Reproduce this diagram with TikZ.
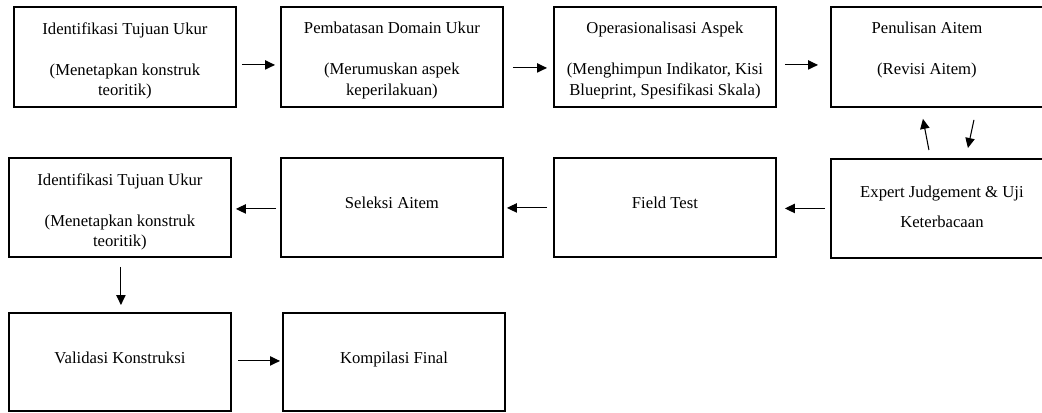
\documentclass[tikz,border=0pt]{standalone}
\usepackage{fontspec}
\setmainfont{Liberation Serif}
\usetikzlibrary{arrows.meta,positioning}
\tikzset{
	stepbox/.style={draw, line width=1.4pt, minimum width=166.5pt, minimum height=75pt, anchor=north west, inner sep=0pt},
	steptext/.style={align=center, inner sep=0pt, font=\fontsize{12.5pt}{15.4pt}\selectfont},
	flow/.style={line width=0.8pt, -{Triangle[length=7.5pt, width=7pt]}}
}

\begin{document}
\begin{tikzpicture}[x=0.75pt, y=-0.75pt]
			%%%%% FRAME %%%%%
			\useasboundingbox (0, 0) rectangle (1042, 412);
			\clip (0, 0) rectangle (1042, 412);
			
			%%%%% ROW 1 %%%%%
			\node[stepbox] (tujuan) at (13, 6) {};
			\node[stepbox] (domain) at (280, 6) {};
			\node[stepbox] (operasional) at (553, 6) {};
			\node[stepbox] (penulisan) at (830, 6) {};
			
			\node[steptext, below=12pt of tujuan.north] (tujuantext) {Identifikasi Tujuan Ukur\\[15.4pt](Menetapkan konstruk\\teoritik)};
			\node[steptext, below=12pt of domain.north] (domaintext) {Pembatasan Domain Ukur\\[15.4pt](Merumuskan aspek\\keperilakuan)};
			\node[steptext, below=12pt of operasional.north] (operasionaltext) {Operasionalisasi Aspek\\[15.4pt](Menghimpun Indikator, Kisi\\Blueprint, Spesifikasi Skala)};
			\node[steptext, below=12pt of penulisan.north, xshift=-11.25pt] (penulisantext) {Penulisan Aitem\\[15.4pt](Revisi Aitem)};
			
			%%%%% ROW 2 %%%%%
			\node[stepbox, minimum height=74.25pt] (tujuanb) at (8, 157) {};
			\node[stepbox, minimum height=74.25pt] (seleksi) at (280, 157) {};
			\node[stepbox, minimum height=74.25pt] (field) at (553, 157) {};
			\node[stepbox, minimum height=74.25pt] (expert) at (830, 158) {};
			
			\node[steptext, below=12pt of tujuanb.north] (tujuanbtext) {Identifikasi Tujuan Ukur\\[15.4pt](Menetapkan konstruk\\teoritik)};
			\node[steptext, below=30pt of seleksi.north] (seleksitext) {Seleksi Aitem};
			\node[steptext, below=30pt of field.north] (fieldtext) {Field Test};
			\node[steptext, below=21pt of expert.north] (experttext) {Expert Judgement \& Uji\\[7.1pt]Keterbacaan};
			
			%%%%% ROW 3 %%%%%
			\node[stepbox, minimum height=73.5pt] (validasi) at (8, 312) {};
			\node[stepbox, minimum height=73.5pt] (kompilasi) at (282, 312) {};
			
			\node[steptext, below=30pt of validasi.north] (validasitext) {Validasi Konstruksi};
			\node[steptext, below=30pt of kompilasi.north] (kompilasitext) {Kompilasi Final};
			
			%%%%% ARROWS %%%%%
			\draw[flow] ([shift={(5, 8)}]tujuan.east) -- ([shift={(-5, 8)}]domain.west);
			\draw[flow] ([shift={(9, 11)}]domain.east) -- ([shift={(-6, 11)}]operasional.west);
			\draw[flow] ([shift={(8, 8)}]operasional.east) -- ([shift={(-12, 8)}]penulisan.west);
			
			\draw[flow] ([shift={(-13, -8)}]expert.north) -- ([shift={(-19, 11)}]penulisan.south);
			\draw[flow] ([shift={(32, 12)}]penulisan.south) -- ([shift={(26, -10)}]expert.north);
			
			\draw[flow] ([shift={(-5, 0)}]expert.west) -- ([shift={(8, 1)}]field.east);
			\draw[flow] ([shift={(-6, 0.5)}]field.west) -- ([shift={(3, 0.5)}]seleksi.east);
			\draw[flow] ([shift={(-4, 1.5)}]seleksi.west) -- ([shift={(4, 1.5)}]tujuanb.east);
			
			\draw[flow] ([shift={(1, 9)}]tujuanb.south) -- ([shift={(1, -7)}]validasi.north);
			\draw[flow] ([shift={(6, -1)}]validasi.east) -- ([shift={(-2, -1)}]kompilasi.west);
			
\end{tikzpicture}
\end{document}
